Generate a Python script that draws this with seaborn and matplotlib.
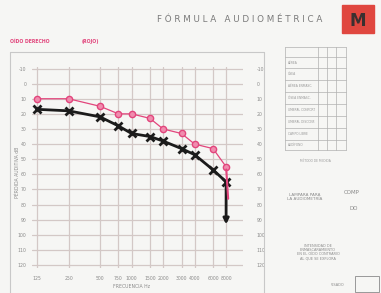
import matplotlib
matplotlib.use("Agg")
import matplotlib.pyplot as plt
import seaborn as sns
import pandas as pd
from matplotlib.patches import Rectangle

# ---- data ----
freqs = [125, 250, 500, 750, 1000, 1500, 2000, 3000, 4000, 6000, 8000]
freq_labels = ["125", "250", "500", "750", "1000", "1500", "2000", "3000", "4000", "6000", "8000"]
red_db = [10, 10, 15, 20, 20, 23, 30, 33, 40, 43, 55]
black_db = [17, 18, 22, 28, 33, 35, 38, 43, 47, 57, 65]
db_ticks = [-10, 0, 10, 20, 30, 40, 50, 60, 70, 80, 90, 100, 110, 120]
black_arrow = (8000, 65, 95)   # freq, from dB, to dB
red_arrow = (8000, 55, 78)
red_arrow_end_freq = 8400

sns.set_theme(style="white")
plt.rcParams['font.family'] = ['DejaVu Sans']

W, H = 381, 293
fig = plt.figure(figsize=(W / 100, H / 100), dpi=100)
fig.patch.set_facecolor("#f6f6f4")

def fx(x):
    return x / W

def fy(y):
    return 1 - y / H

grid_c = "#d3c8c6"
txt_c = "#8a8a8a"
red_c = "#e2457c"

# outer frame of the chart area
fig.add_artist(plt.Line2D([fx(10), fx(264)], [fy(52), fy(52)], color="#c8c8c8", lw=0.8))
fig.add_artist(plt.Line2D([fx(10), fx(10)], [fy(52), fy(293)], color="#c8c8c8", lw=0.8))
fig.add_artist(plt.Line2D([fx(264), fx(264)], [fy(52), fy(293)], color="#c8c8c8", lw=0.8))

ax = fig.add_axes([fx(32), fy(268), fx(243) - fx(32), fy(67) - fy(268)])
ax.set_facecolor("#f6f6f4")

df = pd.DataFrame({
    "freq": freqs * 2,
    "db": red_db + black_db,
    "serie": ["rojo"] * len(freqs) + ["negro"] * len(freqs),
})

sns.lineplot(data=df[df.serie == "rojo"], x="freq", y="db", ax=ax, color=red_c,
             lw=0.9, marker="o", markersize=4.5, markerfacecolor="#f08cae",
             markeredgecolor=red_c, markeredgewidth=1.0, legend=False)
sns.lineplot(data=df[df.serie == "negro"], x="freq", y="db", ax=ax, color="#1b1b1b",
             lw=2.0, marker="x", markersize=6, markeredgewidth=2.0,
             markeredgecolor="#1b1b1b", markerfacecolor="#1b1b1b", legend=False)

ax.annotate("", xy=(black_arrow[0], black_arrow[2]), xytext=(black_arrow[0], black_arrow[1]),
            arrowprops=dict(arrowstyle="-|>", color="#1b1b1b", lw=2.0, mutation_scale=8))
ax.annotate("", xy=(red_arrow_end_freq, red_arrow[2]), xytext=(red_arrow[0], red_arrow[1]),
            arrowprops=dict(arrowstyle="-", color=red_c, lw=1.5))

ax.set_xscale("log")
ax.set_xlim(112, 11600)
ax.set_ylim(122, -11)
ax.set_xticks(freqs)
ax.set_xticklabels(freq_labels, fontsize=3.3, color=txt_c)
ax.minorticks_off()
ax.set_yticks(db_ticks)
ax.set_yticklabels([str(v) for v in db_ticks], fontsize=3.3, color=txt_c)
ax.tick_params(axis="both", length=0, pad=4)
ax.tick_params(axis="x", pad=6)
ax.grid(True, color=grid_c, lw=0.9)
for s in ax.spines.values():
    s.set_visible(False)
ax.set_xlabel("")
ax.set_ylabel("")

ax2 = ax.twinx()
ax2.set_ylim(ax.get_ylim())
ax2.set_yticks(db_ticks)
ax2.set_yticklabels([str(v) for v in db_ticks], fontsize=3.3, color=txt_c)
ax2.tick_params(axis="y", length=0, pad=10)
for s in ax2.spines.values():
    s.set_visible(False)
ax2.grid(False)

fig.text(fx(132), fy(287), "FRECUENCIA Hz", fontsize=3.3, color=txt_c, ha="center", va="center")
fig.text(fx(17), fy(172), "PÉRDIDA AUDITIVA dB", fontsize=3.3, color=txt_c,
         ha="center", va="center", rotation=90)

# header
fig.text(fx(240), fy(19), "F Ó R M U L A   A U D I O M É T R I C A", fontsize=6.3,
         color="#7a7a7a", ha="center", va="center")
fig.text(fx(10), fy(41), "OÍDO DERECHO", fontsize=3.3, color=red_c, ha="left", va="center",
         fontweight="bold")
fig.text(fx(82), fy(41), "(ROJO)", fontsize=3.3, color=red_c, ha="left", va="center",
         fontweight="bold")
fig.add_artist(Rectangle((fx(342), fy(33)), fx(32), fy(5) - fy(33), color="#e0473f",
                         transform=fig.transFigure))
fig.text(fx(358), fy(21), "M", fontsize=12, color="#3a3030", ha="center", va="center",
         fontweight="bold")

# right side panel (table)
tx0, tx1 = 285, 346
ty = [47, 57, 68, 80, 92, 104, 116, 128, 140, 150]
for y in ty:
    fig.add_artist(plt.Line2D([fx(tx0), fx(tx1)], [fy(y), fy(y)], color="#b0b0b0", lw=0.5))
for x in [tx0, 318, 327, 336, tx1]:
    fig.add_artist(plt.Line2D([fx(x), fx(x)], [fy(ty[0]), fy(ty[-1])], color="#b0b0b0", lw=0.5))
row_txt = ["", "AÉREA", "ÓSEA", "AÉREA ENMASC.", "ÓSEA ENMASC.", "UMBRAL CONFORT",
           "UMBRAL DISCONF.", "CAMPO LIBRE", "AUDÍFONO"]
for i, t in enumerate(row_txt):
    fig.text(fx(288), fy((ty[i] + ty[i + 1]) / 2), t, fontsize=2.2, color="#999999",
             ha="left", va="center")
fig.text(fx(315), fy(162), "MÉTODO DE MEDIDA", fontsize=2.2, color="#999999", ha="center")
fig.text(fx(305), fy(197), "LAMPARA PARA\nLA AUDIOMETRÍA", fontsize=3, color="#8a8a8a",
         ha="center", va="center", linespacing=1.2)
fig.text(fx(344), fy(193), "COMP", fontsize=4, color="#8a8a8a", ha="left", va="center")
fig.text(fx(350), fy(208), "DO", fontsize=4, color="#8a8a8a", ha="left", va="center")
fig.text(fx(318), fy(252), "INTENSIDAD DE\nENMASCARAMIENTO\nEN EL OÍDO CONTRARIO\nAL QUE SE EXPLORA",
         fontsize=2.5, color="#8a8a8a", ha="center", va="center", linespacing=1.1)
fig.text(fx(345), fy(285), "VISADO", fontsize=2.5, color="#8a8a8a", ha="right", va="center")
fig.add_artist(Rectangle((fx(355), fy(292)), fx(24), fy(276) - fy(292), fill=False,
                         edgecolor="#8a8a8a", lw=0.6, transform=fig.transFigure))

fig.savefig("out.png", dpi=100, facecolor=fig.get_facecolor())
